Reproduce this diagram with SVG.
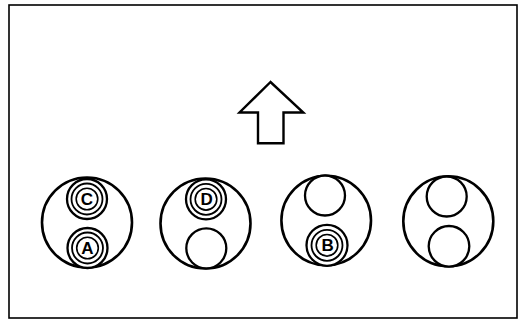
<svg xmlns="http://www.w3.org/2000/svg" width="518" height="320" viewBox="0 0 518 320">
<style>
.big{fill:none;stroke:#000;stroke-width:2.6}
.sm{fill:#fff;stroke:#000;stroke-width:2.3}
.ring{fill:none;stroke:#000;stroke-width:1.8}
.lc{fill:none;stroke:#000;stroke-width:1.6}
.lt{font-family:"Liberation Sans",Arial,sans-serif;font-weight:bold;font-size:17px;text-anchor:middle;fill:#000}
</style>
<rect width="518" height="320" fill="#fff"/>
<rect x="9" y="5" width="508" height="313" fill="none" stroke="#000" stroke-width="1.6"/>
<g id="arrow">
<polygon points="270.5,82 239.5,112.5 258,112.5 258,143.3 283.5,143.3 283.5,112.5 303.3,112.5" fill="#fff" stroke="#000" stroke-width="2.4" stroke-linejoin="miter"/>
</g>
<g id="disk1">
<circle class="big" cx="87" cy="222.5" r="45"/>
<g id="C">
<circle class="sm" cx="87" cy="199" r="20"/>
<circle class="ring" cx="87" cy="199" r="15.5"/>
<circle class="lc" cx="87" cy="199" r="10.8"/>
<text class="lt" x="87" y="205.1">C</text>
</g>
<g id="A">
<circle class="sm" cx="87.5" cy="248" r="20"/>
<circle class="ring" cx="87.5" cy="248" r="15.5"/>
<circle class="lc" cx="87.5" cy="248" r="10.8"/>
<text class="lt" x="87.5" y="254.1">A</text>
</g>
</g>
<g id="disk2">
<circle class="big" cx="205.5" cy="223.5" r="45"/>
<g id="D">
<circle class="sm" cx="206" cy="199.3" r="20"/>
<circle class="ring" cx="206" cy="199.3" r="15.5"/>
<circle class="lc" cx="206" cy="199.3" r="10.8"/>
<text class="lt" x="206.6" y="205.4">D</text>
</g>
<circle class="sm" cx="206.3" cy="248.3" r="20"/>
</g>
<g id="disk3">
<circle class="big" cx="326.2" cy="220.5" r="44.8"/>
<circle class="sm" cx="325" cy="195.5" r="20"/>
<g id="B">
<circle class="sm" cx="327" cy="245.3" r="20.5"/>
<circle class="ring" cx="327" cy="245.3" r="15.5"/>
<circle class="lc" cx="327" cy="245.3" r="10.8"/>
<text class="lt" x="327.6" y="251.4">B</text>
</g>
</g>
<g id="disk4">
<circle class="big" cx="448.3" cy="221.3" r="45"/>
<circle class="sm" cx="446.7" cy="196.5" r="20"/>
<circle class="sm" cx="449" cy="246.3" r="20.3"/>
</g>
</svg>
